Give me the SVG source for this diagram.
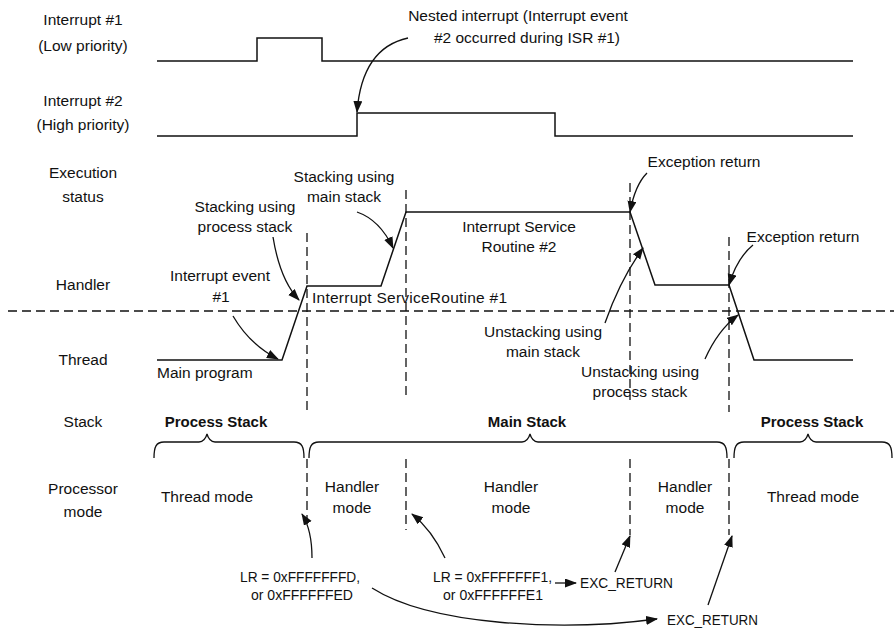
<svg xmlns="http://www.w3.org/2000/svg" width="894" height="633" viewBox="0 0 894 633">
<style>
text{font-family:"Liberation Sans",Arial,sans-serif;font-size:15.5px;fill:#111}
.m{text-anchor:middle}
.b{font-weight:bold;font-size:15px}
.sig{fill:none;stroke:#111;stroke-width:1.5}
.dash{fill:none;stroke:#111;stroke-width:1.3;stroke-dasharray:9,5}
.arr{fill:none;stroke:#111;stroke-width:1.3;marker-end:url(#ah)}
.br{fill:none;stroke:#111;stroke-width:1.3}
</style>
<defs>
<marker id="ah" markerUnits="userSpaceOnUse" markerWidth="12" markerHeight="10" refX="11" refY="4.5" orient="auto">
<path d="M0,0 L12,4.5 L0,9 z" fill="#111"/>
</marker>
</defs>
<rect width="894" height="633" fill="#fff"/>
<g id="labels">
<text class="m" x="83" y="25">Interrupt #1</text>
<text class="m" x="83" y="51">(Low priority)</text>
<text class="m" x="83" y="106">Interrupt #2</text>
<text class="m" x="83" y="130">(High priority)</text>
<text class="m" x="83" y="178">Execution</text>
<text class="m" x="83" y="202">status</text>
<text class="m" x="83" y="290">Handler</text>
<text class="m" x="83" y="365">Thread</text>
<text class="m" x="83" y="427">Stack</text>
<text class="m" x="83" y="494">Processor</text>
<text class="m" x="83" y="517">mode</text>
</g>
<g id="signals">
<path class="sig" d="M157,61 H257 V38 H322 V61 H853"/>
<path class="sig" d="M157,136 H357 V113 H555 V136 H853"/>
<path class="sig" d="M157,360 H282 L307,286 H381 L406,212 H630 L655,285 H729 L754,360 H853"/>
</g>
<g id="dashed-lines">
<path class="dash" d="M8,311 H894"/>
<path class="dash" d="M307,233 V412 M307,459 V528"/>
<path class="dash" d="M406,190 V400 M406,459 V530"/>
<path class="dash" d="M630,183 V400 M630,459 V535"/>
<path class="dash" d="M729,237 V412 M729,459 V535"/>
</g>
<g id="braces">
<path class="br" d="M154,458 C154,447 156,442 164,442 L199,442 C203,442 206,438 207,434 C208,438 211,442 215,442 L294,442 C302,442 304,447 304,458"/>
<path class="br" d="M309,458 C309,447 311,442 319,442 L522,442 C526,442 529,438 530,434 C531,438 534,442 538,442 L717,442 C725,442 727,447 727,458"/>
<path class="br" d="M734,458 C734,447 736,442 744,442 L800,442 C804,442 807,438 808,434 C809,438 812,442 816,442 L882,442 C890,442 892,447 892,458"/>
</g>
<g id="texts">
<text class="m" x="518" y="21">Nested interrupt (Interrupt event</text>
<text class="m" x="527" y="43">#2 occurred during ISR #1)</text>
<text x="157" y="378">Main program</text>
<text class="m" x="220" y="281">Interrupt event</text>
<text class="m" x="221" y="302">#1</text>
<text class="m" x="245" y="212">Stacking using</text>
<text class="m" x="245" y="232">process stack</text>
<text class="m" x="344" y="182">Stacking using</text>
<text class="m" x="344" y="202">main stack</text>
<text x="312" y="303" textLength="195" lengthAdjust="spacing">Interrupt ServiceRoutine #1</text>
<text class="m" x="519" y="232">Interrupt Service</text>
<text class="m" x="519" y="252">Routine #2</text>
<text class="m" x="704" y="167">Exception return</text>
<text class="m" x="803" y="242">Exception return</text>
<text class="m" x="543" y="337">Unstacking using</text>
<text class="m" x="543" y="357">main stack</text>
<text class="m" x="640" y="377">Unstacking using</text>
<text class="m" x="640" y="397">process stack</text>
<text class="m b" x="216" y="427">Process Stack</text>
<text class="m b" x="527" y="427">Main Stack</text>
<text class="m b" x="812" y="427">Process Stack</text>
<text class="m" x="207" y="502">Thread mode</text>
<text class="m" x="352" y="492">Handler</text>
<text class="m" x="352" y="513">mode</text>
<text class="m" x="511" y="492">Handler</text>
<text class="m" x="511" y="513">mode</text>
<text class="m" x="685" y="492">Handler</text>
<text class="m" x="685" y="513">mode</text>
<text class="m" x="813" y="502">Thread mode</text>
<text x="240" y="582" textLength="120" lengthAdjust="spacingAndGlyphs">LR = 0xFFFFFFFD,</text>
<text x="251" y="600" textLength="102" lengthAdjust="spacingAndGlyphs">or 0xFFFFFFED</text>
<text x="433" y="582" textLength="119" lengthAdjust="spacingAndGlyphs">LR = 0xFFFFFFF1,</text>
<text x="443" y="600" textLength="100" lengthAdjust="spacingAndGlyphs">or 0xFFFFFFE1</text>
<text x="580" y="588" textLength="93" lengthAdjust="spacingAndGlyphs">EXC_RETURN</text>
<text x="667" y="625" textLength="91" lengthAdjust="spacingAndGlyphs">EXC_RETURN</text>
</g>
<g id="connectors">
<path class="arr" d="M408,38 Q362,48 357,112"/>
<path class="arr" d="M233,316 Q250,345 278,359"/>
<path class="arr" d="M273,237 Q280,280 299,300"/>
<path class="arr" d="M357,212 Q380,220 393,248"/>
<path class="arr" d="M647,173 Q635,185 630,212"/>
<path class="arr" d="M753,245 Q737,258 729,285"/>
<path class="arr" d="M605,323 Q620,280 643,248"/>
<path class="arr" d="M705,359 Q718,330 738,315"/>
<path class="arr" d="M312,558 Q312,530 302,514"/>
<path class="arr" d="M445,558 Q432,530 412,514"/>
<path class="arr" d="M555,583 L576,583"/>
<path class="arr" d="M615,572 L630,536"/>
<path class="arr" d="M708,605 L732,536"/>
<path class="arr" d="M372,588 C430,625 560,632 657,619"/>
</g>
</svg>
